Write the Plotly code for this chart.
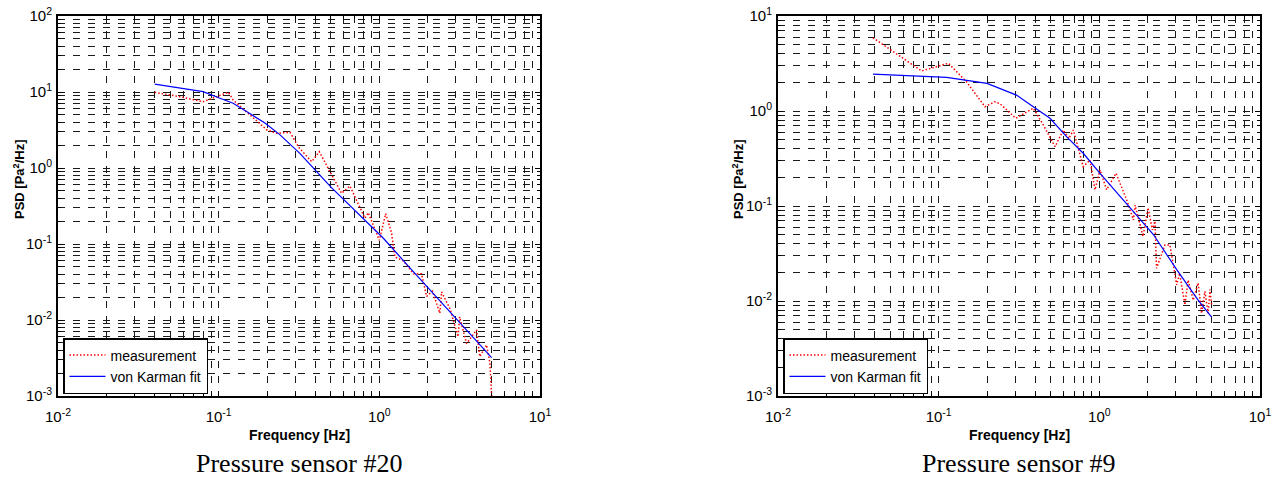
import plotly.graph_objects as go

# ---------------- data ----------------
# Left panel: pressure sensor #20
f_meas_20 = [0.04, 0.0575, 0.0798, 0.115, 0.123, 0.149, 0.2, 0.23, 0.278, 0.316,
             0.379, 0.423, 0.582, 0.656, 0.813, 0.853, 1.0, 1.096, 1.19, 1.25,
             1.41, 1.63, 1.83, 1.97, 2.14, 2.38, 2.44, 2.75, 3.09, 3.16,
             3.49, 4.03, 4.22, 4.65, 4.88, 5.0]
psd_meas_20 = [9.9, 8.67, 7.46, 9.9, 7.85, 5.51, 3.16, 2.86, 2.95, 1.86,
               1.21, 1.64, 0.465, 0.58, 0.219, 0.258, 0.112, 0.251, 0.141, 0.0676,
               0.0603, 0.0407, 0.0407, 0.0204, 0.024, 0.0123, 0.0234, 0.0141, 0.00603, 0.011,
               0.0049, 0.0074, 0.0033, 0.0047, 0.0027, 0.001]
f_fit_20 = [0.04, 0.06, 0.08, 0.1, 0.123, 0.15, 0.194, 0.24, 0.32, 0.5,
            0.75, 1.06, 1.5, 2.0, 3.0, 4.0, 5.0]
psd_fit_20 = [12.7, 11.1, 10.1, 8.4, 7.1, 5.5, 3.9, 2.75, 1.56, 0.56,
              0.243, 0.119, 0.0524, 0.0267, 0.0104, 0.0053, 0.0032]

# Right panel: pressure sensor #9
f_meas_9 = [0.039, 0.0783, 0.115, 0.149, 0.194, 0.224, 0.24, 0.302, 0.388, 0.448,
            0.53, 0.597, 0.646, 0.689, 0.794, 0.875, 0.94, 1.01, 1.11, 1.27,
            1.48, 1.63, 1.67, 1.87, 2.01, 2.14, 2.22, 2.27, 2.56, 2.75,
            3.03, 3.16, 3.41, 3.57, 3.84, 4.12, 4.33, 4.54, 4.76, 4.88, 5.0]
psd_meas_9 = [5.9, 2.64, 3.18, 2.03, 1.11, 1.25, 1.2, 0.838, 1.07, 0.713,
              0.421, 0.631, 0.513, 0.631, 0.259, 0.305, 0.148, 0.24, 0.148, 0.221,
              0.116, 0.0713, 0.102, 0.0479, 0.0955, 0.0562, 0.0692, 0.0221, 0.0389, 0.0389,
              0.0148, 0.0195, 0.00912, 0.0166, 0.0102, 0.0155, 0.0074, 0.0126, 0.0074, 0.0132, 0.00912]
f_fit_9 = [0.039, 0.112, 0.2, 0.24, 0.305, 0.388, 0.493, 0.625, 0.794, 1.01,
           1.28, 1.63, 2.17, 3.03, 4.12, 5.0]
psd_fit_9 = [2.45, 2.26, 1.95, 1.73, 1.47, 1.11, 0.838, 0.537, 0.359, 0.221,
             0.141, 0.0871, 0.0501, 0.0214, 0.0102, 0.00676]

x_tickvals = [0.01, 0.1, 1, 10]
x_ticktext = ["10<sup>-2</sup>", "10<sup>-1</sup>", "10<sup>0</sup>", "10<sup>1</sup>"]
y_tickvals_20 = [1e-3, 1e-2, 1e-1, 1, 10, 100]
y_ticktext_20 = ["10<sup>-3</sup>", "10<sup>-2</sup>", "10<sup>-1</sup>", "10<sup>0</sup>", "10<sup>1</sup>", "10<sup>2</sup>"]
y_tickvals_9 = [1e-3, 1e-2, 1e-1, 1, 10]
y_ticktext_9 = ["10<sup>-3</sup>", "10<sup>-2</sup>", "10<sup>-1</sup>", "10<sup>0</sup>", "10<sup>1</sup>"]

captions = ["Pressure sensor #20", "Pressure sensor #9"]
legend_names = ["measurement", "von Karman fit"]

# ---------------- figure ----------------
W, H = 1274, 478
SANS = "Liberation Sans, Arial, sans-serif"
SERIF = "Liberation Serif, Times New Roman, serif"


def minor_vals(lo_exp, hi_exp):
    vals = []
    for e in range(lo_exp, hi_exp):
        for m in range(2, 10):
            vals.append(m * 10.0 ** e)
    return vals


MEAS_LINE = dict(color="#ff0000", width=1.5, dash="1.5px,2px")
FIT_LINE = dict(color="#0000ff", width=1.2)

fig = go.Figure()
fig.add_trace(go.Scatter(x=f_meas_20, y=psd_meas_20, mode="lines", name=legend_names[0],
                         line=MEAS_LINE, xaxis="x", yaxis="y", legend="legend"))
fig.add_trace(go.Scatter(x=f_fit_20, y=psd_fit_20, mode="lines", name=legend_names[1],
                         line=FIT_LINE, xaxis="x", yaxis="y", legend="legend"))
fig.add_trace(go.Scatter(x=f_meas_9, y=psd_meas_9, mode="lines", name=legend_names[0],
                         line=MEAS_LINE, xaxis="x2", yaxis="y2", legend="legend2"))
fig.add_trace(go.Scatter(x=f_fit_9, y=psd_fit_9, mode="lines", name=legend_names[1],
                         line=FIT_LINE, xaxis="x2", yaxis="y2", legend="legend2"))

ydom = [1 - 396 / H, 1 - 16 / H]
xdom1 = [58 / W, 540 / W]
xdom2 = [778 / W, 1260 / W]

GRIDDASH = "7px,8px"
GRIDCOL = "#1a1a1a"


def axis_common(tickvals, ticktext, rng, minorv, domain, anchor, standoff):
    return dict(
        type="log", range=rng, domain=domain, anchor=anchor, automargin=False,
        tickmode="array", tickvals=tickvals, ticktext=ticktext,
        tickfont=dict(family=SANS, size=15, color="black"),
        ticklabelstandoff=standoff,
        showline=True, linecolor="black", linewidth=2, mirror="allticks",
        ticks="inside", ticklen=5, tickcolor="black", tickwidth=1,
        showgrid=True, gridcolor=GRIDCOL, gridwidth=1, griddash=GRIDDASH,
        zeroline=False,
        minor=dict(tickmode="array", tickvals=minorv, ticks="inside", ticklen=3,
                   tickcolor="black", showgrid=True, gridcolor=GRIDCOL,
                   gridwidth=1, griddash=GRIDDASH),
    )


def legend_box(x_px):
    return dict(x=x_px / W, y=1 - 394 / H, xanchor="left", yanchor="bottom",
                bgcolor="white", bordercolor="black", borderwidth=1.5,
                font=dict(family=SANS, size=14, color="black"),
                tracegroupgap=0, itemwidth=36)


fig.update_layout(
    width=W, height=H,
    margin=dict(l=0, r=0, t=0, b=0),
    paper_bgcolor="white", plot_bgcolor="white",
    xaxis=axis_common(x_tickvals, x_ticktext, [-2, 1], minor_vals(-2, 1), xdom1, "y", 6),
    yaxis=axis_common(y_tickvals_20, y_ticktext_20, [-3, 2], minor_vals(-3, 2), ydom, "x", 1),
    xaxis2=axis_common(x_tickvals, x_ticktext, [-2, 1], minor_vals(-2, 1), xdom2, "y2", 6),
    yaxis2=axis_common(y_tickvals_9, y_ticktext_9, [-3, 1], minor_vals(-3, 1), ydom, "x2", 1),
    legend=legend_box(63),
    legend2=legend_box(783),
    showlegend=True,
)

annotations = []
for cx, yx, cap in [((58 + 540) / 2, 19, captions[0]), ((778 + 1260) / 2, 738, captions[1])]:
    annotations.append(dict(text="<b>Frequency [Hz]</b>", x=cx / W, y=1 - 435 / H,
                            xref="paper", yref="paper", showarrow=False,
                            xanchor="center", yanchor="middle",
                            font=dict(family=SANS, size=14, color="black")))
    annotations.append(dict(text="<b>PSD [Pa<sup>2</sup>/Hz]</b>", x=yx / W, y=1 - 180 / H,
                            xref="paper", yref="paper", showarrow=False, textangle=-90,
                            xanchor="center", yanchor="middle",
                            font=dict(family=SANS, size=13, color="black")))
    annotations.append(dict(text=cap, x=cx / W, y=1 - 463 / H,
                            xref="paper", yref="paper", showarrow=False,
                            xanchor="center", yanchor="middle",
                            font=dict(family=SERIF, size=26, color="black")))
fig.update_layout(annotations=annotations)

fig.write_html("out.html", config={"displayModeBar": False},
               post_script="document.body.style.margin='0';document.body.style.overflow='hidden';")
